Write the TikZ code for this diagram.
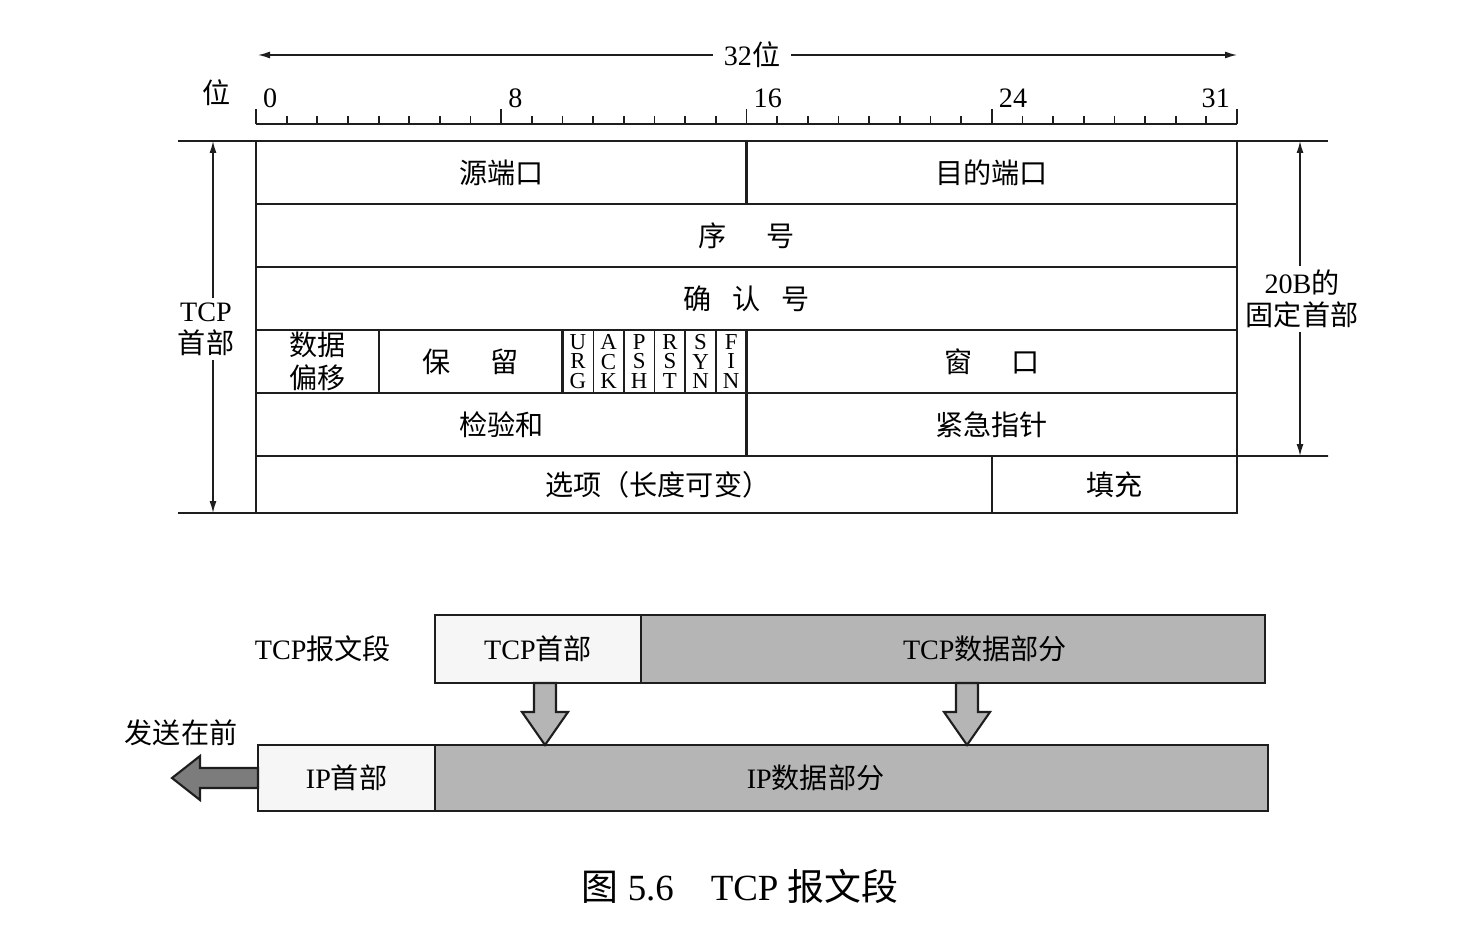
\documentclass[tikz,border=0pt]{standalone}
\usepackage{fontspec}
\setmainfont{Liberation Serif}
\newfontfamily\zhfont{Noto Sans CJK SC}
\newcommand{\zh}[1]{{\zhfont #1}}
\usepackage{tikz}
\usetikzlibrary{arrows.meta,calc,positioning}
\definecolor{SegGray}{HTML}{B5B5B5}
\definecolor{SendGray}{HTML}{7C7C7C}
\definecolor{PaleGray}{HTML}{F6F6F6}
\definecolor{HeadInk}{HTML}{1E1E1E}
\tikzset{
  >={Latex[length=1.2mm,width=0.7mm]},
  dim/.style={->,line width=0.4pt,draw=HeadInk},
  extline/.style={line width=0.5pt,draw=HeadInk},
  field/.style={draw=HeadInk,line width=0.6pt,inner sep=0pt,outer sep=0pt,
    minimum height=6.3mm,align=center,font=\fontsize{8}{9.2}\selectfont},
  flagbox/.style={field,line width=0.4pt,minimum width=3.0656mm,
    font=\fontsize{6.5}{5.5}\selectfont},
  segbox/.style={draw=HeadInk,line width=0.8pt,fill=PaleGray,inner sep=0pt,
    outer sep=0pt,minimum height=6.8mm,font=\fontsize{8}{9.2}\selectfont},
  databox/.style={segbox,fill=SegGray},
  droparrow/.style={draw=HeadInk,line width=0.6pt,fill=SegGray},
  sendarrow/.style={draw=HeadInk,line width=0.6pt,fill=SendGray},
  tag/.style={inner sep=1pt,align=center,font=\fontsize{8}{9.2}\selectfont}
}

\begin{document}
\begin{tikzpicture}[x=0.1mm,y=-0.1mm]
    \useasboundingbox (0,0) rectangle (1469,929);
    % bit ruler
    \node[tag,inner sep=3pt] (wordlen) at (752,55) {32\zh{位}};
    \coordinate (wordL) at (258,55);
    \coordinate (wordR) at (1237,55);
    \draw[dim] (wordlen) -- (wordL);
    \draw[dim] (wordlen) -- (wordR);
    \node[tag] (bitword) at (217,93) {\zh{位}};
    \draw[extline] (256,124) -- (1237,124);
    \foreach \n in {0,...,32} \draw[extline] ({256+30.656*\n},124) -- ++(0,-8);
    \foreach \n in {0,8,16,24,32} \draw[extline] ({256+30.656*\n},124) -- ++(0,-15);
    \foreach \n in {0,8,16,24} \node[tag,anchor=base west] (bit\n) at ({259+30.656*\n},108) {\n};
    \node[tag,anchor=base east] (bit31) at (1234,108) {31};
    % header fields
    \node[field,minimum width=49.05mm,anchor=north west] (srcport) at (256,141) {\zh{源端口}};
    \node[field,minimum width=49.05mm,right=0pt of srcport] (dstport) {\zh{目的端口}};
    \node[field,minimum width=98.1mm,anchor=north west] (seqno) at (srcport.south west) {\zh{序}\hspace{3.9mm}\zh{号}};
    \node[field,minimum width=98.1mm,anchor=north west] (ackno) at (seqno.south west) {\zh{确}\hspace{2.1mm}\zh{认}\hspace{2.1mm}\zh{号}};
    \node[field,minimum width=12.26mm,anchor=north west] (offset) at (ackno.south west) {\zh{数据}\\\zh{偏移}};
    \node[field,minimum width=18.39mm,right=0pt of offset] (reserved) {\zh{保}\hspace{3.9mm}\zh{留}};
    \foreach \f [count=\i from 0] in {{U\\R\\G},{A\\C\\K},{P\\S\\H},{R\\S\\T},{S\\Y\\N},{F\\I\\N}}
      \node[flagbox,anchor=north west] (flag\i) at ({562.56+30.656*\i},330) {\f};
    \node[field,minimum width=49.05mm,anchor=north east] (window) at (ackno.south east) {\zh{窗}\hspace{3.9mm}\zh{口}};
    \node[field,minimum width=49.05mm,anchor=north west] (checksum) at (offset.south west) {\zh{检验和}};
    \node[field,minimum width=49.05mm,right=0pt of checksum] (urgptr) {\zh{紧急指针}};
    \node[field,minimum width=73.57mm,minimum height=5.7mm,anchor=north west] (options) at (checksum.south west) {\hspace*{6.8mm}\zh{选项（长度可变）}};
    \node[field,minimum width=24.53mm,minimum height=5.7mm,right=0pt of options] (padding) {\zh{填充}};
    % header length marks
    \coordinate (hdrtopL) at (178,141);
    \coordinate (hdrbotL) at (178,513);
    \coordinate (fixtopR) at (1328,141);
    \coordinate (fixbotR) at (1328,456);
    \draw[extline] (hdrtopL) -- (srcport.north west);
    \draw[extline] (hdrbotL) -- (options.south west);
    \draw[extline] (dstport.north east) -- (fixtopR);
    \draw[extline] (urgptr.south east) -- (fixbotR);
    \node[tag] (hdrlen) at (206,329) {TCP\\\zh{首部}};
    \coordinate (hdrtop) at (213,141);
    \coordinate (hdrbot) at (213,513);
    \draw[dim] (hdrlen.north -| hdrtop) -- (hdrtop);
    \draw[dim] (hdrlen.south -| hdrbot) -- (hdrbot);
    \node[tag] (fixlen) at (1302,299) {20B\zh{的}\\\zh{固定首部}};
    \coordinate (fixtop) at (1300,141);
    \coordinate (fixbot) at (1300,456);
    \draw[dim] (fixlen.north -| fixtop) -- (fixtop);
    \draw[dim] (fixlen.south -| fixbot) -- (fixbot);
    % segment into datagram
    \node[segbox,minimum width=20.6mm,anchor=north west] (tcphdr) at (435,615) {TCP\zh{首部}};
    \node[databox,minimum width=62.4mm,right=0pt of tcphdr] (tcpdata) {\hspace*{6.4mm}TCP\zh{数据部分}};
    \node[tag,left=4mm of tcphdr] (seglabel) {TCP\zh{报文段}};
    \node[segbox,minimum width=17.7mm,minimum height=6.6mm,anchor=north west] (iphdr) at (258,745) {IP\zh{首部}};
    \node[databox,minimum width=83.3mm,minimum height=6.6mm,right=0pt of iphdr] (ipdata) {IP\zh{数据部分}\hspace*{7.2mm}};
    \foreach \src/\x in {tcphdr/545,tcpdata/967}{
      \coordinate (droptop) at (\x,0 |- \src.south);
      \coordinate (dropbot) at (\x,0 |- ipdata.north);
      \draw[droparrow] ($(droptop)+(-11,0)$) -- ($(dropbot)+(-11,-33)$) -- ($(dropbot)+(-23,-33)$)
        -- (dropbot) -- ($(dropbot)+(23,-33)$) -- ($(dropbot)+(11,-33)$) -- ($(droptop)+(11,0)$) -- cycle;
    }
    \node[tag] (sendfirst) at (181,733) {\zh{发送在前}};
    \coordinate (sendtip) at (172,778);
    \draw[sendarrow] ($(iphdr.west)+(0,-10)$) -- ($(sendtip)+(28,-10)$) -- ($(sendtip)+(28,-22)$)
      -- (sendtip) -- ($(sendtip)+(28,22)$) -- ($(sendtip)+(28,10)$) -- ($(iphdr.west)+(0,10)$) -- cycle;
    \node[tag,font=\fontsize{10.5}{12}\selectfont] (caption) at (740,886) {\zh{图} 5.6\quad TCP \zh{报文段}};
\end{tikzpicture}
\end{document}
